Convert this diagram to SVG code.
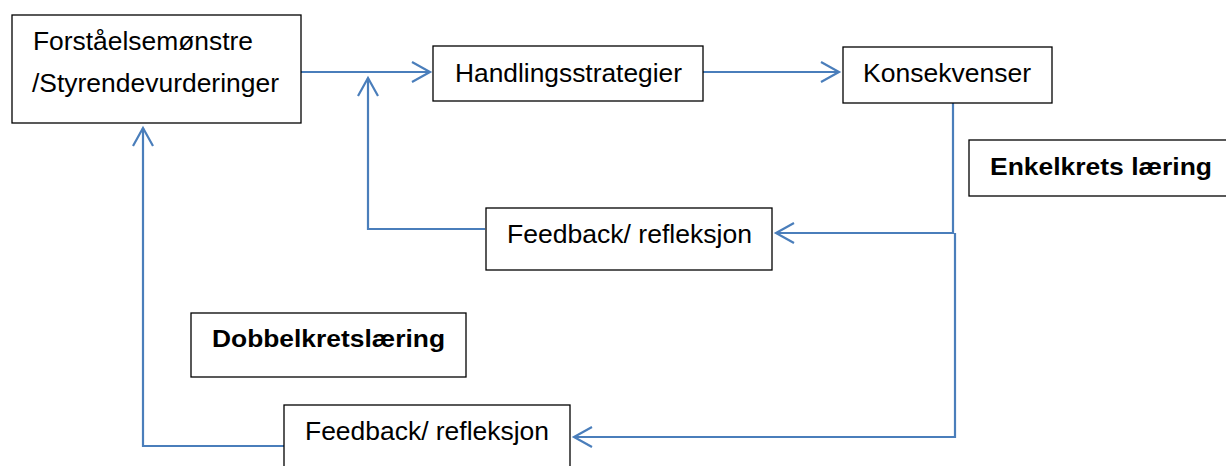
<svg xmlns="http://www.w3.org/2000/svg" width="1226" height="466" viewBox="0 0 1226 466">
  <style>
    .box { fill: #ffffff; stroke: #000000; stroke-width: 1.3; }
    .t { font-family: "Liberation Sans", Arial, sans-serif; font-size: 25px; fill: #000000; }
    .b { font-family: "Liberation Sans", Arial, sans-serif; font-weight: bold; font-size: 23px; fill: #000000; }
    .c { fill: none; stroke: #4a7ebb; stroke-width: 2.2; }
  </style>
  <defs>
    <marker id="arr" markerUnits="userSpaceOnUse" viewBox="-22 -12 24 24" markerWidth="24" markerHeight="24" refX="0" refY="0" orient="auto" overflow="visible">
      <path d="M-18,-10 L0,0 L-18,10" fill="none" stroke="#4a7ebb" stroke-width="2.2"/>
    </marker>
  </defs>
  <rect width="1226" height="466" fill="#ffffff"/>

  <g id="connectors">
    <path class="c" d="M301,72 L430,72" marker-end="url(#arr)"/>
    <path class="c" d="M703,72 L839,72" marker-end="url(#arr)"/>
    <path class="c" d="M485,229 L368,229 L368,78" marker-end="url(#arr)"/>
    <path class="c" d="M953,103 L953,233 L776,233" marker-end="url(#arr)"/>
    <path class="c" d="M955,233 L955,437 L574,437" marker-end="url(#arr)"/>
    <path class="c" d="M284,446 L143,446 L143,128" marker-end="url(#arr)"/>
  </g>

  <g id="forstaelse">
    <rect class="box" x="12" y="15" width="289" height="108"/>
    <text class="t" x="33" y="50" textLength="220" lengthAdjust="spacingAndGlyphs">Forståelsemønstre</text>
    <text class="t" x="32" y="92" textLength="247" lengthAdjust="spacingAndGlyphs">/Styrendevurderinger</text>
  </g>

  <g id="handlingsstrategier">
    <rect class="box" x="433" y="46" width="270" height="55"/>
    <text class="t" x="455" y="82" textLength="227" lengthAdjust="spacingAndGlyphs">Handlingsstrategier</text>
  </g>

  <g id="konsekvenser">
    <rect class="box" x="843" y="47" width="209" height="56"/>
    <text class="t" x="863" y="82" textLength="168" lengthAdjust="spacingAndGlyphs">Konsekvenser</text>
  </g>

  <g id="enkelkrets">
    <rect class="box" x="969" y="140" width="270" height="56"/>
    <text class="b" x="990" y="175" textLength="222" lengthAdjust="spacingAndGlyphs">Enkelkrets læring</text>
  </g>

  <g id="feedback1">
    <rect class="box" x="486" y="208" width="286" height="62"/>
    <text class="t" x="507" y="243" textLength="245" lengthAdjust="spacingAndGlyphs">Feedback/ refleksjon</text>
  </g>

  <g id="dobbelkrets">
    <rect class="box" x="191" y="313" width="275" height="64"/>
    <text class="b" x="212" y="347" textLength="233" lengthAdjust="spacingAndGlyphs">Dobbelkretslæring</text>
  </g>

  <g id="feedback2">
    <rect class="box" x="284" y="405" width="286" height="80"/>
    <text class="t" x="305" y="440" textLength="244" lengthAdjust="spacingAndGlyphs">Feedback/ refleksjon</text>
  </g>
</svg>
